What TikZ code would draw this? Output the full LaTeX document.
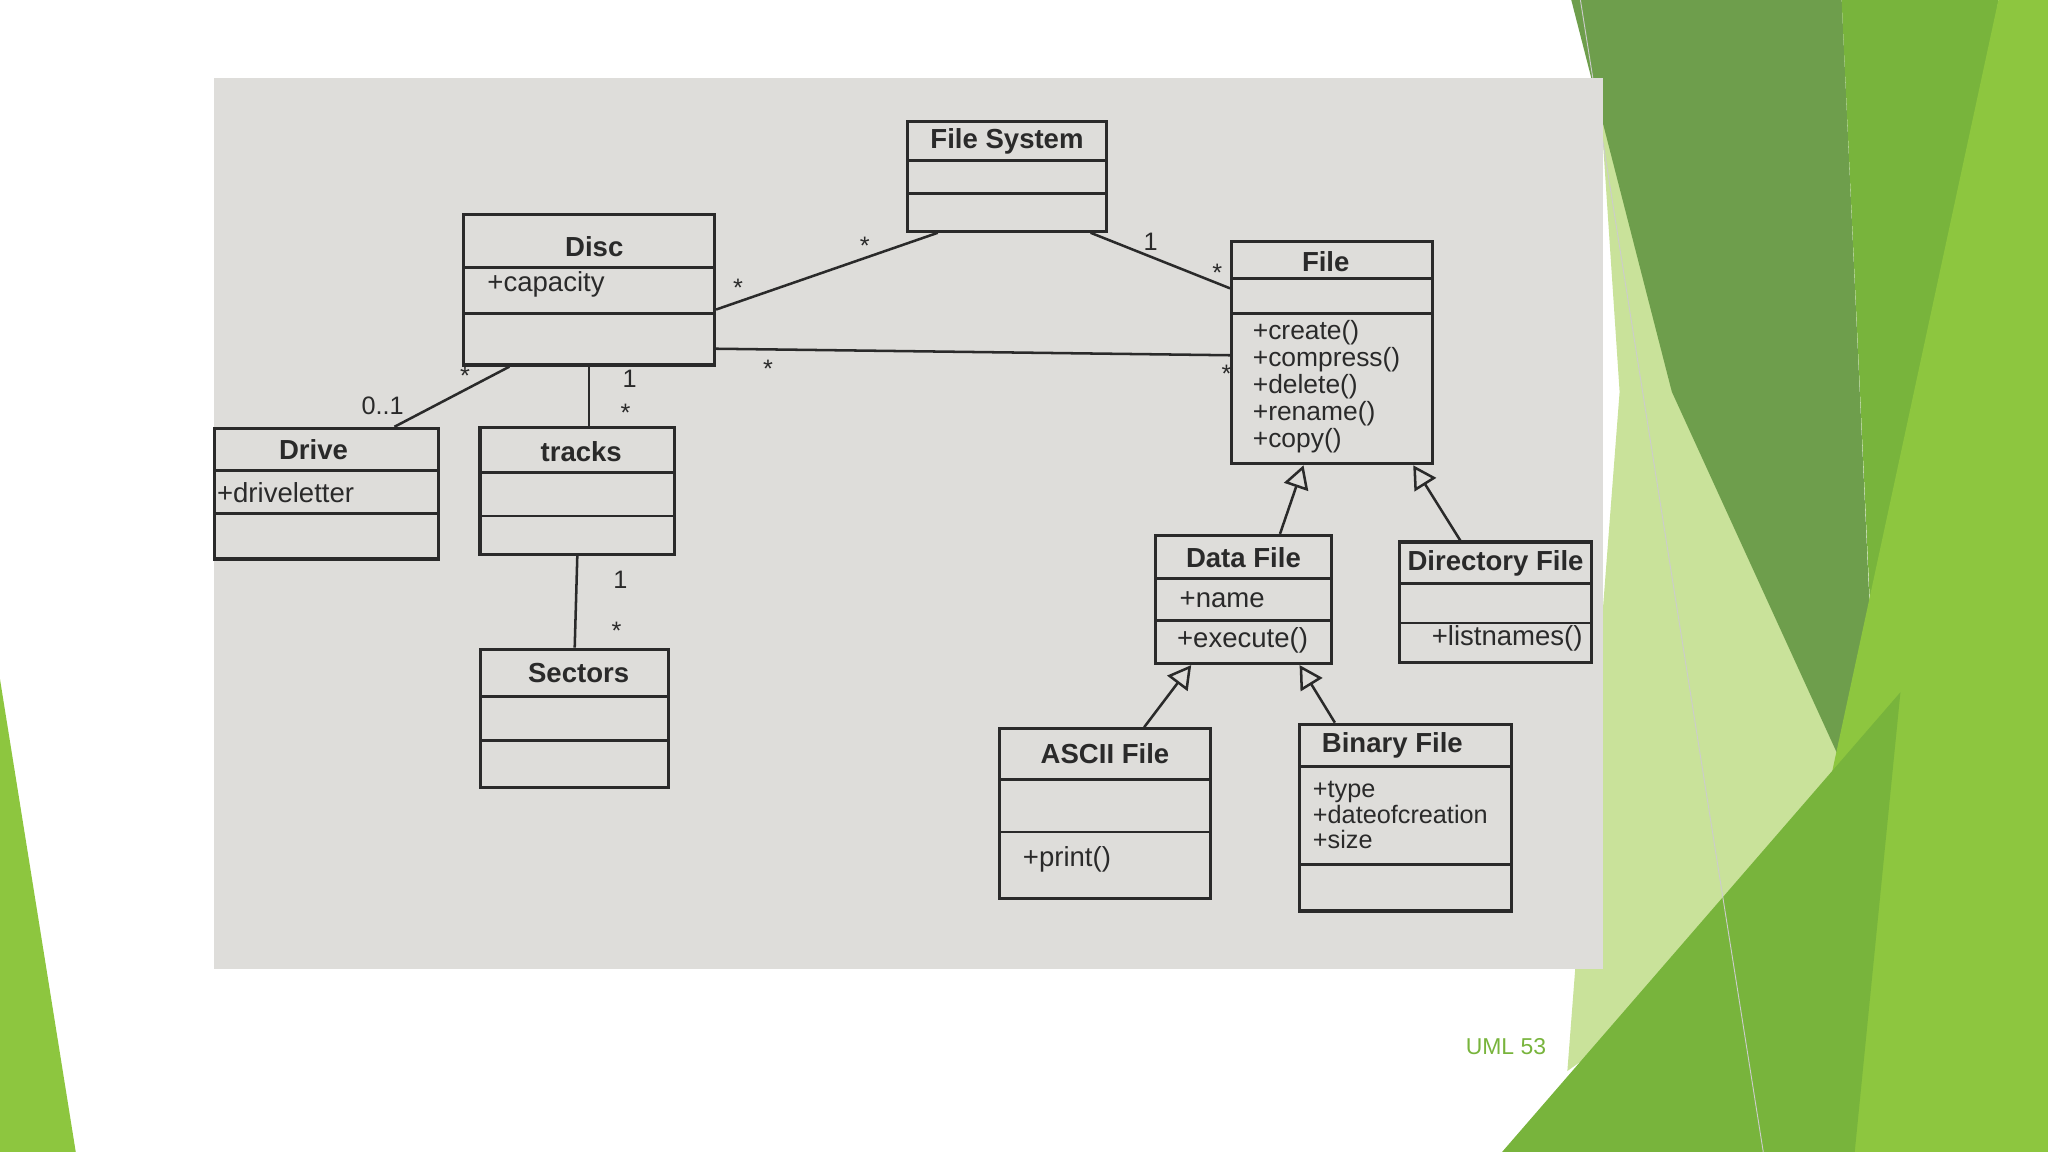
\documentclass[tikz,border=0pt]{standalone}
\usepackage{fontspec}
\setmainfont{Liberation Sans}
\usetikzlibrary{arrows.meta}
\definecolor{paper}{HTML}{DEDDDA}
\definecolor{ink}{HTML}{2A2A2A}
\definecolor{leafdark}{HTML}{6E9E4C}
\definecolor{leafmid}{HTML}{78B43C}
\definecolor{leafbright}{HTML}{8DC63F}
\definecolor{leaflight}{HTML}{C9E29A}
\def\u{0.2mm}
\tikzset{
  umlbox/.style={draw=ink, line width=1.4pt, fill=paper, inner sep=0pt},
  title/.style={font=\bfseries\fontsize{12}{13}\selectfont, text=ink},
  member/.style={font=\fontsize{12}{13}\selectfont, text=ink, anchor=west},
  mult/.style={font=\fontsize{11}{12}\selectfont, text=ink},
  assoc/.style={draw=ink, line width=1.1pt},
  inherit/.style={draw=ink, line width=1.1pt, -{Triangle[open, length=10pt, width=11pt]}}
}
\begin{document}
\begin{tikzpicture}[x=0.2mm, y=-0.2mm]
\useasboundingbox (0,0) rectangle (1568,882);
% Slide decoration
\fill[leafbright] (0,520) -- (58,882) -- (0,882) -- cycle;
\fill[leaflight] (1220,0) -- (1300,0) -- (1440,650) -- (1200,820) -- (1240,300) -- cycle;
\fill[leafdark] (1203,0) -- (1410,0) -- (1440,650) -- (1280,300) -- cycle;
\fill[leafmid] (1410,0) -- (1530,0) -- (1440,640) -- cycle;
\fill[leafbright] (1530,0) -- (1568,0) -- (1568,882) -- (1340,882) -- cycle;
\fill[leafmid] (1150,882) -- (1455,530) -- (1420,882) -- cycle;
\draw[gray!40] (1210,0) -- (1350,882);
\node[font=\fontsize{10}{11}\selectfont, text=leafmid] (pagenum) at (1153,801) {UML 53};
% Photo of the page
\fill[paper] (164,60) rectangle (1227,742);

% Classes
\node[umlbox, minimum width=152*\u, minimum height=84*\u] (fs) at (771,135) {};
\draw[ink, line width=1.2pt] (695,123) -- (847,123) (695,148) -- (847,148);
\node[title] (fstitle) at (771,108) {File System};

\node[umlbox, minimum width=192*\u, minimum height=115*\u] (disc) at (451,222) {};
\draw[ink, line width=1.2pt] (355,205) -- (547,205) (355,240) -- (547,240);
\node[title] (disctitle) at (455,189) {Disc};
\node[member] (capacity) at (367,218) {+capacity};

\node[umlbox, minimum width=154*\u, minimum height=170*\u] (file) at (1020,270) {};
\draw[ink, line width=1.2pt] (943,213) -- (1097,213) (943,240) -- (1097,240);
\node[title] (filetitle) at (1015,200) {File};
\node[member, align=left, font=\fontsize{11.5}{10.5}\selectfont] (fileops) at (953,296) {+create()\\+compress()\\+delete()\\+rename()\\+copy()};

\node[umlbox, minimum width=172*\u, minimum height=100*\u] (drive) at (250,378) {};
\draw[ink, line width=1.2pt] (164,360) -- (336,360) (164,393) -- (336,393);
\node[title] (drivetitle) at (240,344) {Drive};
\node[member] (driveletter) at (160,377) {+driveletter};

\node[umlbox, minimum width=149*\u, minimum height=97*\u] (tracks) at (442,376) {};
\draw[ink, line width=1.2pt] (368,362) -- (517,362) (368,395) -- (517,395);
\node[title] (trackstitle) at (445,346) {tracks};

\node[umlbox, minimum width=144*\u, minimum height=106*\u] (sectors) at (440,550) {};
\draw[ink, line width=1.2pt] (368,533) -- (512,533) (368,567) -- (512,567);
\node[title] (sectorstitle) at (443,515) {Sectors};

\node[umlbox, minimum width=135*\u, minimum height=98*\u] (data) at (952,459) {};
\draw[ink, line width=1.2pt] (885,443) -- (1020,443) (885,475) -- (1020,475);
\node[title] (datatitle) at (952,427) {Data File};
\node[member] (name) at (897,459) {+name};
\node[member] (execute) at (895,490) {+execute()};

\node[umlbox, minimum width=147*\u, minimum height=92*\u] (dir) at (1145,461) {};
\draw[ink, line width=1.2pt] (1072,447) -- (1219,447) (1072,477) -- (1219,477);
\node[title] (dirtitle) at (1145,431) {Directory File};
\node[member] (listnames) at (1090,489) {+listnames()};

\node[umlbox, minimum width=162*\u, minimum height=130*\u] (ascii) at (846,623) {};
\draw[ink, line width=1.2pt] (765,597) -- (927,597) (765,637) -- (927,637);
\node[title] (asciititle) at (846,577) {ASCII File};
\node[member] (print) at (777,658) {+print()};

\node[umlbox, minimum width=162*\u, minimum height=143*\u] (binary) at (1076,626) {};
\draw[ink, line width=1.2pt] (995,587) -- (1157,587) (995,662) -- (1157,662);
\node[title] (binarytitle) at (1066,571) {Binary File};
\node[member, align=left, font=\fontsize{11}{11}\selectfont] (binattr) at (999,624) {+type\\+dateofcreation\\+size};

% Associations
\draw[assoc] ([yshift=-15*\u]disc.east) -- ([xshift=-53*\u]fs.south);
\node[mult] (m1) at (565,220) {*};
\node[mult] (m2) at (662,188) {*};
\draw[assoc] ([xshift=64*\u]fs.south) -- ([yshift=-37*\u]file.north west);
\node[mult] (m3) at (881,185) {1};
\node[mult] (m4) at (932,209) {*};
\draw[assoc] ([yshift=-45*\u]disc.east) -- ([yshift=-2*\u]file.west);
\node[mult] (m5) at (588,282) {*};
\node[mult] (m6) at (939,286) {*};
\draw[assoc] ([xshift=-61*\u]disc.south) -- ([xshift=52*\u]drive.north);
\node[mult] (m7) at (356,288) {*};
\node[mult] (m8) at (293,311) {0..1};
\draw[assoc] (disc.south) -- ([xshift=9*\u]tracks.north);
\node[mult] (m9) at (482,290) {1};
\node[mult] (m10) at (479,316) {*};
\draw[assoc] (tracks.south) -- (sectors.north);
\node[mult] (m11) at (475,444) {1};
\node[mult] (m12) at (472,483) {*};

% Generalisations
\draw[inherit] ([xshift=28*\u]data.north) -- ([xshift=-22*\u]file.south);
\draw[inherit] ([xshift=-27*\u]dir.north) -- ([xshift=62*\u]file.south);
\draw[inherit] ([xshift=30*\u]ascii.north) -- ([xshift=-40*\u]data.south);
\draw[inherit] ([xshift=-54*\u]binary.north) -- ([xshift=43*\u]data.south);
\end{tikzpicture}
\end{document}
